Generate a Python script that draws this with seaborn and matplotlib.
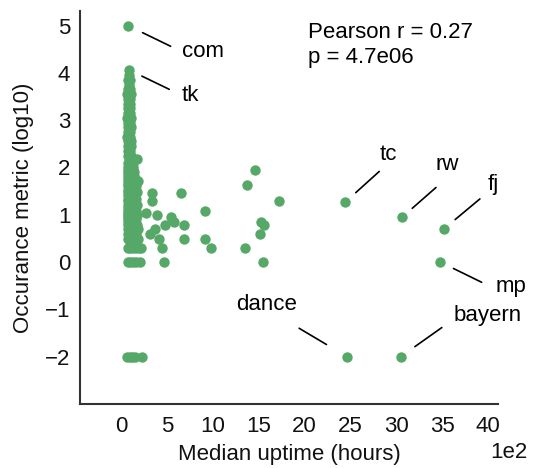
import numpy as np
import pandas as pd
import matplotlib
matplotlib.use("Agg")
import matplotlib.pyplot as plt
import seaborn as sns

# ---------------- data ----------------
# x: median uptime in hours, y: occurrence metric (log10)
cluster_points = [
    (80, 3.95), (75, 3.85), (95, 3.85), (80, 3.75), (70, 3.65), (95, 3.65),
    (65, 3.55), (90, 3.55), (110, 3.55), (75, 3.45), (100, 3.45),
    (70, 3.35), (95, 3.35), (75, 3.25), (100, 3.25), (70, 3.15), (95, 3.15),
    (65, 3.05), (90, 3.05), (110, 3.05), (70, 2.95), (100, 2.95),
    (75, 2.85), (105, 2.85), (70, 2.75), (95, 2.75), (65, 2.65), (100, 2.65),
    (70, 2.55), (105, 2.55), (75, 2.45), (110, 2.45), (70, 2.35), (100, 2.35),
    (70, 2.25), (105, 2.25), (175, 2.17), (75, 2.10), (110, 2.10), (130, 2.10),
    (70, 2.00), (100, 2.00), (130, 2.00),
    (70, 1.95), (100, 1.95), (130, 1.95), (75, 1.90), (110, 1.90), (140, 1.90),
    (70, 1.85), (100, 1.85), (130, 1.85), (75, 1.78), (120, 1.78), (150, 1.78),
    (70, 1.72), (100, 1.72), (130, 1.72), (180, 1.72),
    (75, 1.66), (110, 1.66), (140, 1.66),
    (70, 1.60), (100, 1.60), (130, 1.60), (160, 1.60),
    (75, 1.53), (110, 1.53), (140, 1.53),
    (70, 1.48), (100, 1.48), (130, 1.48), (170, 1.48),
    (75, 1.41), (110, 1.41), (150, 1.41),
    (70, 1.34), (100, 1.34), (130, 1.34), (160, 1.34),
    (75, 1.28), (110, 1.28), (140, 1.28),
    (70, 1.20), (100, 1.20), (130, 1.20), (170, 1.20),
    (75, 1.15), (120, 1.15), (150, 1.15),
    (70, 1.08), (100, 1.08), (130, 1.08), (160, 1.08),
    (75, 1.04), (110, 1.04), (140, 1.04),
    (70, 1.00), (100, 1.00), (130, 1.00), (170, 1.00),
    (75, 0.95), (110, 0.95), (150, 0.95),
    (70, 0.90), (100, 0.90), (130, 0.90), (160, 0.90),
    (75, 0.85), (120, 0.85), (150, 0.85),
    (70, 0.78), (100, 0.78), (130, 0.78), (170, 0.78),
    (75, 0.70), (110, 0.70), (140, 0.70), (180, 0.70),
    (70, 0.60), (100, 0.60), (130, 0.60), (160, 0.60),
    (75, 0.48), (110, 0.48), (140, 0.48), (180, 0.48),
    (70, 0.30), (100, 0.30), (130, 0.30), (160, 0.30), (190, 0.30), (220, 0.30),
    (70, 0.00), (100, 0.00), (130, 0.00), (160, 0.00), (200, 0.00),
    (65, -2.0), (90, -2.0), (120, -2.0), (150, -2.0), (230, -2.0),
]
spread_points = [
    (330, 1.45), (650, 1.45), (330, 1.28), (270, 1.04), (390, 1.00),
    (540, 0.95), (575, 0.85), (480, 0.78), (680, 0.78), (370, 0.70),
    (310, 0.60), (410, 0.48), (680, 0.48), (440, 0.30), (470, 0.00),
    (1460, 1.95), (1370, 1.63), (1720, 1.30), (910, 1.08), (1520, 0.85),
    (1560, 0.78), (1510, 0.60), (910, 0.48), (975, 0.30), (1350, 0.30),
    (1550, 0.00),
]
label_names = ["com", "tk", "tc", "rw", "fj", "mp", "bayern", "dance"]
label_x = [73, 87, 2440, 3065, 3520, 3480, 3050, 2460]
label_y = [5.00, 4.06, 1.26, 0.95, 0.70, 0.00, -2.00, -2.00]

x_ticks = [0, 500, 1000, 1500, 2000, 2500, 3000, 3500, 4000]
y_ticks = [-2, -1, 0, 1, 2, 3, 4, 5]
pearson_r = 0.27
p_value_text = "4.7e06"

# ---------------- layout (points: text dx, text dy, line dx, line dy, shrink) ----------------
label_layout = {
    "com":    (54.0, -22.5, 30.7, -14.9, 11.7),
    "tk":     (44.2, -22.3, 28.8, -13.9, 10.1),
    "tc":     (31.2, 30.7, 24.7, 22.3, 10.5),
    "rw":     (32.2, 34.1, 24.3, 21.3, 9.6),
    "fj":     (35.5, 28.3, 25.9, 21.6, 10.5),
    "mp":     (51.1, -21.8, 29.8, -14.6, 10.6),
    "bayern": (62.3, 25.8, 29.5, 20.9, 12.4),
    "dance":  (-57.6, 33.3, -34.3, 20.4, 17.0),
}

all_x = [p[0] for p in cluster_points] + [p[0] for p in spread_points] + label_x
all_y = [p[1] for p in cluster_points] + [p[1] for p in spread_points] + label_y
df = pd.DataFrame({"uptime": all_x, "metric": all_y})

sns.set_style("white")
plt.rcParams["font.family"] = ["Liberation Sans", "DejaVu Sans"]
plt.rcParams["font.size"] = 16

green = sns.color_palette("deep")[2]
text_color = "#111111"

fig = plt.figure(figsize=(5.37, 4.68), dpi=100)
ax = fig.add_axes([0.149, 0.137, 0.7784, 0.8397])
sns.scatterplot(data=df, x="uptime", y="metric", color=green, s=56,
                linewidth=0, ax=ax, zorder=3)

ax.set_xlim(-450, 4110)
ax.set_ylim(-3.0, 5.31)
ax.set_xticks(x_ticks)
ax.set_yticks(y_ticks)
ax.ticklabel_format(axis="x", style="sci", scilimits=(2, 2))
ax.tick_params(axis="x", labelsize=16, length=0, pad=9, colors=text_color)
ax.tick_params(axis="y", labelsize=16, length=0, pad=7, colors=text_color)
ax.xaxis.get_offset_text().set_fontsize(16)
ax.xaxis.get_offset_text().set_color(text_color)
ax.xaxis.get_offset_text().set_x(1.07)
ax.set_xlabel("Median uptime (hours)", fontsize=16, labelpad=5, color=text_color)
ax.set_ylabel("Occurance metric (log10)", fontsize=16, labelpad=8, color=text_color)
sns.despine(ax=ax)
for side in ["left", "bottom"]:
    ax.spines[side].set_color("#333333")
    ax.spines[side].set_linewidth(1.5)

for name, x, y in zip(label_names, label_x, label_y):
    tdx, tdy, ldx, ldy, shr = label_layout[name]
    ax.annotate("", xy=(x, y), xytext=(ldx, ldy), textcoords="offset points",
                arrowprops=dict(arrowstyle="-", color="black", lw=1.2,
                                shrinkA=0, shrinkB=shr))
    ax.annotate(name, xy=(x, y), xytext=(tdx, tdy), textcoords="offset points",
                ha="center", va="baseline", fontsize=16, color="black")

ax.text(0.545, 0.972, f"Pearson r = {pearson_r}\np = {p_value_text}",
        transform=ax.transAxes, ha="left", va="top", fontsize=16,
        linespacing=1.25, color="black")

fig.savefig("out.png", dpi=100)
